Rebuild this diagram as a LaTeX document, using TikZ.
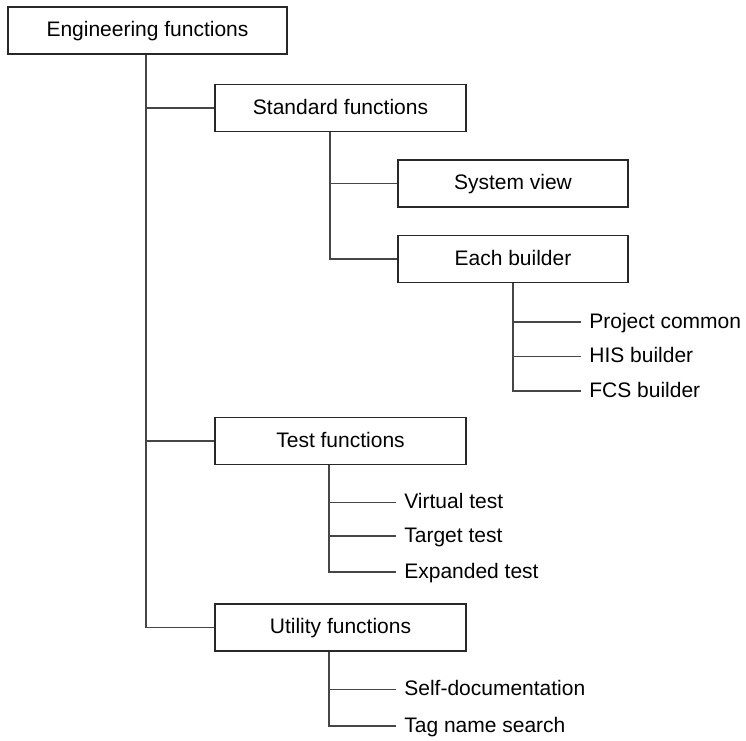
\documentclass[tikz,border=0pt]{standalone}
\usepackage{fontspec}
\setmainfont{Liberation Sans}
\definecolor{boxline}{RGB}{40, 40, 40}
\definecolor{treeline}{RGB}{70, 70, 70}
\usepackage{tikz}

\begin{document}
\begin{tikzpicture}[
    x=0.02cm, y=-0.02cm,
    box/.style={draw=boxline, line width=0.9pt, fill=white, inner sep=0pt,
                minimum height=0.94cm, text height=0.716em, text depth=0pt,
                font=\fontsize{11.95}{14}\selectfont},
    leaf/.style={anchor=west, inner xsep=0.16cm, inner ysep=0pt,
                 text height=0.716em, text depth=0pt,
                 font=\fontsize{11.95}{14}\selectfont},
    branch/.style={draw=treeline, line width=0.7pt}
  ]
    \useasboundingbox (0,0) rectangle (746,740);

    \node[box, minimum width=5.58cm] (eng) at (147.5, 30.5) {Engineering functions};
    \node[box, minimum width=5.02cm] (std) at (340.5, 108) {Standard functions};
    \node[box, minimum width=4.6cm] (sysview) at (513, 183.5) {System view};
    \node[box, minimum width=4.6cm] (builder) at (513, 259) {Each builder};
    \node[box, minimum width=5.02cm] (test) at (340.5, 441) {Test functions};
    \node[box, minimum width=5.02cm] (util) at (340.5, 627.5) {Utility functions};

    \node[leaf] (common) at (581, 322) {Project common};
    \node[leaf] (his) at (581, 356.5) {HIS builder};
    \node[leaf] (fcs) at (581, 391) {FCS builder};

    \node[leaf] (virtual) at (396, 502.5) {Virtual test};
    \node[leaf] (target) at (396, 536) {Target test};
    \node[leaf] (expanded) at (396, 572) {Expanded test};

    \node[leaf] (selfdoc) at (396, 689.5) {Self-documentation};
    \node[leaf] (tagsearch) at (396, 726) {Tag name search};

    \draw[branch] ([xshift=-0.03cm]eng.south) |- (std.west);
    \draw[branch] ([xshift=-0.03cm]eng.south) |- (test.west);
    \draw[branch] ([xshift=-0.03cm]eng.south) |- (util.west);

    \draw[branch] ([xshift=-0.21cm]std.south) |- (sysview.west);
    \draw[branch] ([xshift=-0.21cm]std.south) |- (builder.west);

    \draw[branch] (builder.south) |- (common.west);
    \draw[branch] (builder.south) |- (his.west);
    \draw[branch] (builder.south) |- (fcs.west);

    \draw[branch] ([xshift=-0.23cm]test.south) |- (virtual.west);
    \draw[branch] ([xshift=-0.23cm]test.south) |- (target.west);
    \draw[branch] ([xshift=-0.23cm]test.south) |- (expanded.west);

    \draw[branch] ([xshift=-0.23cm]util.south) |- (selfdoc.west);
    \draw[branch] ([xshift=-0.23cm]util.south) |- (tagsearch.west);
\end{tikzpicture}
\end{document}
